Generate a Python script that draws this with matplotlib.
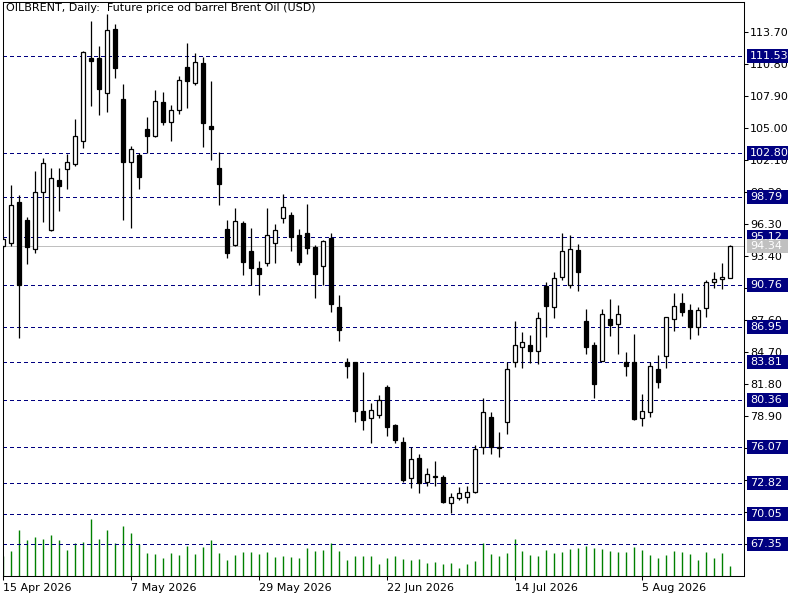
import matplotlib
matplotlib.use('Agg')
import matplotlib.pyplot as plt
import matplotlib.transforms as mtransforms
from matplotlib.patches import Rectangle
import numpy as np
import pandas as pd

# daily OHLC, first bar = 15 Apr 2026
opens = [94.33, 94.57, 98.29, 96.68, 94.03, 99.25, 95.78, 100.31, 101.28, 101.76,
         103.87, 111.34, 111.34, 108.17, 114.00, 107.65, 101.91, 102.58, 104.93, 104.33,
         107.35, 105.59, 106.66, 110.53, 109.08, 110.94, 105.21, 101.37, 95.87, 94.39,
         96.38, 93.87, 92.30, 92.81, 94.57, 96.84, 97.14, 95.32, 95.53, 94.26,
         92.54, 95.08, 88.82, 83.78, 83.78, 79.39, 78.76, 79.00, 81.57, 78.10,
         76.53, 73.32, 75.13, 72.90, 73.41, 73.41, 71.00, 71.45, 71.54, 72.05,
         76.13, 78.80, 76.04, 78.40, 83.84, 85.14, 85.32, 84.83, 90.73, 88.82,
         91.49, 90.79, 93.96, 87.53, 85.35, 83.93, 87.71, 87.23, 83.84, 83.78,
         78.70, 79.25, 83.15, 84.38, 87.68, 89.13, 88.52, 86.96, 88.68, 91.04,
         91.31, 91.45]
highs = [95.10, 99.86, 98.95, 96.98, 101.13, 102.33, 101.37, 101.37, 102.67, 105.84,
         112.00, 114.72, 112.46, 115.36, 114.45, 109.01, 103.39, 102.78, 106.05, 108.47,
         108.29, 107.11, 109.77, 112.76, 111.85, 111.49, 109.28, 102.82, 96.68, 97.74,
         96.59, 95.93, 92.97, 97.74, 96.32, 99.04, 97.38, 95.84, 98.13, 94.42,
         94.87, 95.53, 89.88, 84.15, 83.81, 82.88, 80.12, 80.82, 81.72, 78.16,
         76.98, 76.08, 75.47, 74.17, 74.83, 73.56, 71.91, 72.45, 72.57, 76.28,
         80.52, 79.25, 77.44, 83.84, 87.55, 86.50, 86.26, 88.32, 91.09, 91.94,
         95.48, 95.32, 94.51, 88.61, 85.60, 88.61, 89.52, 88.98, 84.69, 86.32,
         80.91, 83.84, 84.44, 87.92, 90.04, 90.04, 89.07, 88.77, 91.24, 91.94,
         92.81, 94.42]
lows = [94.14, 94.33, 86.01, 92.69, 93.72, 96.53, 95.71, 97.50, 99.49, 101.61,
        103.24, 107.02, 106.20, 106.50, 109.58, 96.68, 95.98, 99.49, 102.78, 104.24,
        105.30, 103.87, 106.27, 106.86, 108.92, 103.27, 102.12, 98.04, 93.21, 94.33,
        91.70, 90.79, 89.88, 92.51, 92.81, 96.44, 93.90, 92.60, 93.60, 89.58,
        90.79, 88.37, 85.74, 82.39, 78.40, 77.64, 76.49, 78.76, 77.10, 76.44,
        72.96, 72.36, 71.91, 72.57, 72.59, 71.00, 70.09, 71.30, 71.00, 71.96,
        75.44, 75.47, 75.22, 77.26, 83.38, 83.29, 83.75, 83.63, 86.10, 87.83,
        91.24, 90.55, 90.27, 84.53, 80.52, 83.90, 86.19, 84.53, 82.57, 78.55,
        78.01, 78.85, 81.48, 83.29, 86.65, 88.01, 85.87, 86.26, 87.92, 90.55,
        90.40, 91.40]
closes = [94.93, 98.04, 90.76, 94.26, 99.19, 101.82, 100.46, 99.79, 101.91, 104.27,
          111.89, 111.13, 108.56, 113.91, 110.49, 101.97, 103.09, 100.61, 104.33, 107.47,
          105.59, 106.66, 109.38, 109.31, 110.98, 105.45, 104.91, 99.92, 93.66, 96.57,
          92.90, 92.36, 91.81, 95.32, 95.78, 97.83, 95.11, 92.90, 94.17, 91.79,
          94.78, 89.07, 86.71, 83.47, 79.39, 78.55, 79.46, 80.36, 77.94, 76.74,
          73.11, 75.02, 72.81, 73.63, 73.43, 71.14, 71.54, 71.91, 72.00, 75.89,
          79.25, 76.13, 76.06, 83.15, 85.32, 85.60, 84.83, 87.77, 88.91, 91.40,
          93.87, 94.03, 92.00, 85.20, 81.79, 88.13, 87.16, 88.13, 83.47, 78.64,
          79.39, 83.47, 82.02, 87.86, 88.91, 88.32, 86.96, 88.52, 91.04, 91.31,
          91.54, 94.34]
volume = [2000, 2500, 4600, 3600, 3900, 3700, 4100, 3600, 2600, 3300,
          3400, 5700, 3700, 4600, 3300, 5000, 4300, 3200, 2300, 2200,
          1800, 2300, 2100, 3000, 2200, 2900, 3600, 2300, 1600, 2100,
          2400, 2400, 2200, 2400, 1900, 2000, 1900, 1800, 2800, 2500,
          2600, 3300, 2500, 1600, 2000, 2000, 2000, 1200, 1800, 2000,
          1700, 1600, 1700, 1300, 1400, 1200, 1300, 800, 1200, 1500,
          3300, 2200, 2000, 2300, 3700, 2500, 2100, 2000, 2600, 2300,
          2400, 2700, 2800, 3000, 2800, 2700, 2500, 2400, 2400, 2900,
          2600, 2100, 1800, 2100, 2500, 2400, 2200, 1600, 2400, 1800,
          2300, 1000]

levels = [111.53, 102.80, 98.79, 95.12, 90.76, 86.95, 83.81, 80.36, 76.07, 72.82, 70.05, 67.35]
last_price = 94.34
title = "OILBRENT, Daily:  Future price od barrel Brent Oil (USD)"

dates = pd.bdate_range('2026-04-15', periods=len(opens))
xs = np.arange(len(opens))

plt.rcParams['font.family'] = 'DejaVu Sans'
plt.rcParams['font.size'] = 8

W, H = 800, 600
fig = plt.figure(figsize=(8, 6), dpi=100)
ax = fig.add_axes([3 / W, 24 / H, 741 / W, 574.5 / H])
ax2 = ax.twinx()  # volume pane shares x
ax.set_zorder(2)
ax.patch.set_visible(False)
ax2.set_zorder(1)

ymin, ymax = 64.41, 116.49
ax.set_ylim(ymin, ymax)
ax.set_xlim(0.09, 92.715)
py = (ymax - ymin) / 574.5  # price per pixel

# volumes
ax2.vlines(xs, 0, volume, color='#008000', lw=1)
ax2.set_ylim(0, max(volume) * 10)
ax2.set_yticks([])
for s in ax2.spines.values():
    s.set_visible(False)

# level lines (1px, no smoothing like the terminal)
for lv in levels:
    ax.axhline(lv, color='#000080', lw=0.72, dashes=(4, 3), zorder=1, antialiased=False)
ax.axhline(last_price, color='#c0c0c0', lw=0.72, zorder=1, antialiased=False)

# candles
for x, o, h, l, c in zip(xs, opens, highs, lows, closes):
    ax.vlines(x, l, h, color='black', lw=0.9, zorder=2)
    fc = 'white' if c >= o else 'black'
    ax.add_patch(Rectangle((x - 0.25, min(o, c)), 0.5, abs(c - o), fc=fc, ec='black', lw=0.9, zorder=3))

# right price scale
ax.yaxis.tick_right()
yt = np.arange(67.30, 114.0, 2.9)
ax.set_yticks(yt)
ax.set_yticklabels([f'{t:.2f}' for t in yt])
ax.tick_params(axis='y', direction='out', length=3, width=0.75, pad=1.5, colors='black')

# level labels
trans = mtransforms.blended_transform_factory(ax.transAxes, ax.transData)
for lv in levels:
    ax.add_patch(Rectangle(((747 - 3) / 741, lv - 7 * py), 41 / 741, 14 * py, transform=trans,
                           fc='#000080', ec='none', clip_on=False, zorder=5))
    ax.text((750 - 3) / 741, lv, f'{lv:.2f}', transform=trans, color='white', va='center',
            ha='left', zorder=6, clip_on=False)
ax.add_patch(Rectangle(((747 - 3) / 741, last_price - 7 * py), 41 / 741, 14 * py, transform=trans,
                       fc='#c0c0c0', ec='none', clip_on=False, zorder=5))
ax.text((750 - 3) / 741, last_price, f'{last_price:.2f}', transform=trans, color='white',
        va='center', ha='left', zorder=6, clip_on=False)

# date axis
tick_pos = xs[::16]
ax.set_xticks(tick_pos)
ax.set_xticklabels([f"{d.day} {d.strftime('%b %Y')}" for d in dates[tick_pos]], ha='left')
ax.tick_params(axis='x', direction='out', length=3, width=0.75, pad=2)

for s in ax.spines.values():
    s.set_linewidth(0.75)

fig.text(6 / W, 1 - 3 / H, title, va='top', ha='left', fontsize=8)

fig.savefig('out.png', dpi=100, facecolor='white')
